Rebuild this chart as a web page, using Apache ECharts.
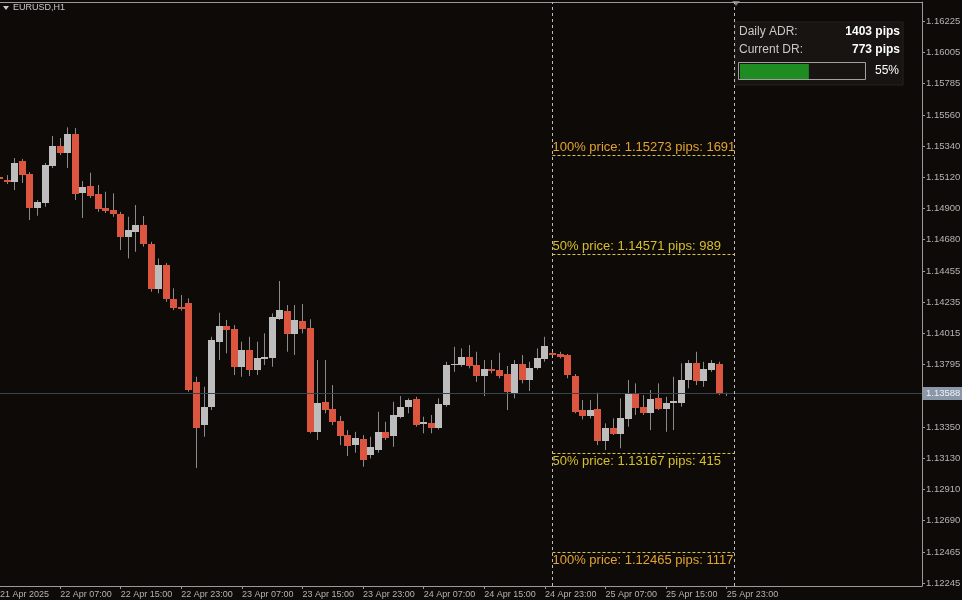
<!DOCTYPE html>
<html>
<head>
<meta charset="utf-8">
<title>EURUSD,H1</title>
<script src="https://cdn.jsdelivr.net/npm/echarts@6/dist/echarts.min.js"></script>
<style>
  html, body { margin: 0; padding: 0; background: #0d0a08; }
  #chart { width: 962px; height: 600px; }
</style>
</head>
<body>
<div id="chart"></div>
<script>
// H1 bars, index 0 = 21 Apr 23:00 ... 96 = 25 Apr 23:00
let opens = [1.15118, 1.15099, 1.15085, 1.15234, 1.15139, 1.14899, 1.14938, 1.15200, 1.15340, 1.15288,
  1.15423, 1.15009, 1.15054, 1.14998, 1.14899, 1.14887, 1.14856, 1.14693, 1.14729, 1.14778,
  1.14644, 1.14325, 1.14497, 1.14258, 1.14197, 1.14228, 1.13670, 1.13364, 1.13489, 1.13954,
  1.14065, 1.14044, 1.13777, 1.13895, 1.13753, 1.13829, 1.13840, 1.14113, 1.14173, 1.14008,
  1.14100, 1.14053, 1.13316, 1.13529, 1.13479, 1.13392, 1.13293, 1.13217, 1.13265, 1.13156,
  1.13182, 1.13316, 1.13286, 1.13423, 1.13489, 1.13546, 1.13371, 1.13380, 1.13345, 1.13505,
  1.13787, 1.13789, 1.13843, 1.13789, 1.13711, 1.13760, 1.13753, 1.13723, 1.13593, 1.13798,
  1.13683, 1.13770, 1.13829, 1.13872, 1.13867, 1.13858, 1.13713, 1.13470, 1.13428, 1.13475,
  1.13246, 1.13340, 1.13300, 1.13406, 1.13593, 1.13491, 1.13447, 1.13558, 1.13479, 1.13518,
  1.13518, 1.13678, 1.13801, 1.13671, 1.13753, 1.13796, 1.13578];
let closes = [1.15104, 1.15085, 1.15222, 1.15132, 1.14899, 1.14943, 1.15205, 1.15340, 1.15288, 1.15423,
  1.15000, 1.15052, 1.14986, 1.14892, 1.14877, 1.14856, 1.14690, 1.14745, 1.14778, 1.14641,
  1.14325, 1.14497, 1.14256, 1.14197, 1.14185, 1.13612, 1.13345, 1.13494, 1.13966, 1.14065,
  1.14037, 1.13773, 1.13895, 1.13753, 1.13840, 1.13843, 1.14127, 1.14178, 1.14008, 1.14108,
  1.14042, 1.13316, 1.13522, 1.13475, 1.13387, 1.13286, 1.13217, 1.13270, 1.13116, 1.13210,
  1.13312, 1.13277, 1.13435, 1.13494, 1.13541, 1.13364, 1.13387, 1.13345, 1.13513, 1.13789,
  1.13796, 1.13843, 1.13782, 1.13711, 1.13758, 1.13746, 1.13711, 1.13593, 1.13798, 1.13683,
  1.13770, 1.13840, 1.13924, 1.13858, 1.13848, 1.13713, 1.13458, 1.13428, 1.13470, 1.13246,
  1.13340, 1.13300, 1.13411, 1.13593, 1.13489, 1.13451, 1.13546, 1.13479, 1.13522, 1.13532,
  1.13683, 1.13801, 1.13671, 1.13758, 1.13801, 1.13589, 1.13588];
let highs = [1.15134, 1.15134, 1.15255, 1.15248, 1.15155, 1.14957, 1.15219, 1.15411, 1.15396, 1.15472,
  1.15467, 1.15092, 1.15151, 1.15064, 1.15016, 1.15005, 1.14874, 1.14839, 1.14922, 1.14844,
  1.14662, 1.14544, 1.14511, 1.14332, 1.14285, 1.14261, 1.13706, 1.13635, 1.13989, 1.14159,
  1.14108, 1.14072, 1.13954, 1.13989, 1.13954, 1.14013, 1.14155, 1.14384, 1.14214, 1.14214,
  1.14221, 1.14113, 1.13824, 1.13824, 1.13647, 1.13428, 1.13328, 1.13316, 1.13293, 1.13281,
  1.13458, 1.13387, 1.13529, 1.13569, 1.13553, 1.13564, 1.13423, 1.13435, 1.13553, 1.13812,
  1.13918, 1.13907, 1.13930, 1.13883, 1.13824, 1.13824, 1.13876, 1.13782, 1.13824, 1.13860,
  1.13812, 1.13907, 1.13989, 1.13890, 1.13883, 1.13867, 1.13725, 1.13541, 1.13541, 1.13593,
  1.13376, 1.13411, 1.13553, 1.13683, 1.13659, 1.13576, 1.13612, 1.13659, 1.13564, 1.13706,
  1.13801, 1.13824, 1.13883, 1.13812, 1.13824, 1.13812, 1.13593];
let lows = [1.15092, 1.15071, 1.15028, 1.15078, 1.14816, 1.14846, 1.14910, 1.15184, 1.15276, 1.15184,
  1.14957, 1.14830, 1.14972, 1.14874, 1.14865, 1.14839, 1.14603, 1.14544, 1.14591, 1.14627,
  1.14308, 1.14297, 1.14237, 1.14178, 1.14173, 1.13600, 1.13059, 1.13281, 1.13470, 1.13824,
  1.13872, 1.13718, 1.13706, 1.13711, 1.13718, 1.13789, 1.13777, 1.14108, 1.13883, 1.13860,
  1.14013, 1.13305, 1.13258, 1.13447, 1.13364, 1.13222, 1.13144, 1.13168, 1.13069, 1.13128,
  1.13168, 1.13258, 1.13210, 1.13411, 1.13447, 1.13352, 1.13305, 1.13305, 1.13333, 1.13494,
  1.13741, 1.13777, 1.13765, 1.13670, 1.13569, 1.13730, 1.13695, 1.13470, 1.13553, 1.13659,
  1.13605, 1.13758, 1.13812, 1.13843, 1.13836, 1.13695, 1.13447, 1.13404, 1.13411, 1.13222,
  1.13187, 1.13293, 1.13199, 1.13352, 1.13435, 1.13435, 1.13328, 1.13470, 1.13316, 1.13328,
  1.13494, 1.13624, 1.13647, 1.13635, 1.13741, 1.13576, 1.13570];

let xMin = 0.058;
let xMax = 121.79;
let xTickPos = [8, 16, 24, 32, 40, 48, 56, 64, 72, 80, 88, 96];
let xTickLabels = ['22 Apr 07:00', '22 Apr 15:00', '22 Apr 23:00', '23 Apr 07:00', '23 Apr 15:00', '23 Apr 23:00',
  '24 Apr 07:00', '24 Apr 15:00', '24 Apr 23:00', '25 Apr 07:00', '25 Apr 15:00', '25 Apr 23:00'];
let firstLabel = '21 Apr 2025';

let yMin = 1.12224;
let yMax = 1.16360;
let yTicks = [1.16225, 1.16005, 1.15785, 1.15560, 1.15340, 1.15120, 1.14900, 1.14680, 1.14455, 1.14235,
  1.14015, 1.13795, 1.13350, 1.13130, 1.12910, 1.12690, 1.12465, 1.12245];

let bidPrice = 1.13588;
let dayStart = 73;
let dayEnd = 97;
let levelNames = ['100%', '50%', '50%', '100%'];
let levelPrices = [1.15273, 1.14571, 1.13167, 1.12465];
let levelPips = [1691, 989, 415, 1117];
let adrPips = 1403;
let drPips = 773;

const BULL = '#bdbdbd';
const BEAR = '#dc553f';
const FRAME = '#9a9a9a';
const FONT = "'Liberation Sans', Arial, sans-serif";

let candles = opens.map(function (o, i) {
  return [i, o, closes[i], lows[i], highs[i]];
});

function renderCandle(params, api) {
  let x = api.value(0);
  let o = api.value(1), c = api.value(2), l = api.value(3), h = api.value(4);
  let po = api.coord([x, o]);
  let pc = api.coord([x, c]);
  let pl = api.coord([x, l]);
  let ph = api.coord([x, h]);
  let w = Math.round(api.size([1, 0])[0] * 0.88);
  let cx = Math.floor(po[0]);
  let top = Math.round(Math.min(po[1], pc[1]));
  let hgt = Math.max(Math.round(Math.abs(po[1] - pc[1])), 1);
  let color = c >= o ? BULL : BEAR;
  return {
    type: 'group',
    children: [
      {
        type: 'line',
        shape: { x1: cx + 0.5, y1: ph[1], x2: cx + 0.5, y2: pl[1] },
        style: { stroke: '#8a8a8a', lineWidth: 1 }
      },
      {
        type: 'rect',
        shape: { x: cx - Math.floor(w / 2), y: top, width: w, height: hgt },
        style: { fill: color }
      }
    ]
  };
}

function vLine(x) {
  return [
    { coord: [x, yMin], lineStyle: { color: '#bdbdbd', type: [3, 3], width: 1 }, label: { show: false } },
    { coord: [x, yMax] }
  ];
}

let levelLines = levelPrices.map(function (p, i) {
  let upper = p > bidPrice;
  let txtColor = levelNames[i] === '100%' ? '#e3a231' : '#d9bf2c';
  return [
    {
      coord: [dayStart, p],
      lineStyle: { color: '#d8c441', type: [3, 2], width: 1 },
      label: {
        show: true,
        position: upper ? 'insideStartTop' : 'insideStartBottom',
        distance: [0, 2],
        formatter: levelNames[i] + ' price: ' + p.toFixed(5) + ' pips: ' + levelPips[i],
        color: txtColor,
        fontSize: 13,
        fontFamily: FONT
      }
    },
    { coord: [dayEnd, p] }
  ];
});

let bidLine = [
  {
    coord: [xMin, bidPrice],
    lineStyle: { color: '#3a4350', type: 'solid', width: 1 },
    label: {
      show: true,
      position: 'end',
      distance: 1,
      formatter: bidPrice.toFixed(5),
      color: '#eef2f6',
      backgroundColor: '#8997a8',
      padding: [2, 3, 1, 3],
      fontSize: 9.5,
      fontFamily: FONT
    }
  },
  { coord: [xMax, bidPrice] }
];

let option = {
  backgroundColor: '#0d0a08',
  animation: false,
  grid: {
    left: 0, right: 40, top: 2, bottom: 14,
    outerBoundsMode: 'none',
    containLabel: false
  },
  xAxis: [
    {
      type: 'value',
      min: xMin,
      max: xMax,
      splitLine: { show: false },
      axisLine: { lineStyle: { color: FRAME } },
      axisTick: { customValues: xTickPos, length: 3, lineStyle: { color: FRAME } },
      axisLabel: {
        customValues: [xMin].concat(xTickPos),
        align: 'left',
        margin: 4,
        color: '#b4b4b4',
        fontSize: 9,
        fontFamily: FONT,
        formatter: function (v) {
          let k = xTickPos.indexOf(v);
          return k < 0 ? firstLabel : xTickLabels[k];
        }
      }
    },
    {
      // top frame line only
      type: 'value',
      position: 'top',
      min: xMin,
      max: xMax,
      splitLine: { show: false },
      axisLine: { show: true, lineStyle: { color: FRAME } },
      axisTick: { show: false },
      axisLabel: { show: false }
    }
  ],
  yAxis: {
    type: 'value',
    position: 'right',
    min: yMin,
    max: yMax,
    splitLine: { show: false },
    axisLine: { show: true, lineStyle: { color: FRAME } },
    axisTick: { show: true, customValues: yTicks, length: 3, lineStyle: { color: FRAME } },
    axisLabel: {
      customValues: yTicks,
      margin: 4,
      color: '#b4b4b4',
      fontSize: 9.5,
      fontFamily: FONT,
      formatter: function (v) { return v.toFixed(5); }
    }
  },
  series: [
    {
      type: 'custom',
      renderItem: renderCandle,
      encode: { x: 0, y: [1, 2, 3, 4] },
      data: candles,
      z: 3
    },
    {
      type: 'line',
      data: [],
      markLine: {
        silent: true,
        symbol: ['none', 'none'],
        data: [bidLine, vLine(dayStart), vLine(dayEnd)].concat(levelLines)
      }
    }
  ],
  graphic: [
    { type: 'polygon', shape: { points: [[3, 6], [9, 6], [6, 10]] }, style: { fill: '#c8c8c8' } },
    { type: 'text', style: { text: 'EURUSD,H1', x: 13, y: 8, textVerticalAlign: 'middle', fill: '#c8c8c8', font: '9px ' + FONT } },
    { type: 'polygon', shape: { points: [[732, 1], [740, 1], [736, 6]] }, style: { fill: '#7a7a7a' } },
    { type: 'rect', shape: { x: 735, y: 22, width: 168, height: 63 }, style: { fill: '#171411', stroke: '#26221f' } },
    { type: 'text', style: { text: 'Daily ADR:', x: 739, y: 32, textVerticalAlign: 'middle', fill: '#c8c8c8', font: '12px ' + FONT } },
    { type: 'text', style: { text: adrPips + ' pips', x: 900, y: 32, textAlign: 'right', textVerticalAlign: 'middle', fill: '#ffffff', font: 'bold 12px ' + FONT } },
    { type: 'text', style: { text: 'Current DR:', x: 739, y: 50, textVerticalAlign: 'middle', fill: '#c8c8c8', font: '12px ' + FONT } },
    { type: 'text', style: { text: drPips + ' pips', x: 900, y: 50, textAlign: 'right', textVerticalAlign: 'middle', fill: '#ffffff', font: 'bold 12px ' + FONT } },
    { type: 'rect', shape: { x: 738.5, y: 62.5, width: 127, height: 17 }, style: { fill: 'none', stroke: '#a0a0a0' } },
    { type: 'rect', shape: { x: 740, y: 64, width: 125 * drPips / adrPips, height: 15 }, style: { fill: '#1f8c22' } },
    { type: 'text', style: { text: Math.round(100 * drPips / adrPips) + '%', x: 899, y: 71, textAlign: 'right', textVerticalAlign: 'middle', fill: '#ffffff', font: '12px ' + FONT } }
  ]
};

let myChart = echarts.init(document.getElementById('chart'));
myChart.setOption(option);
</script>
</body>
</html>
